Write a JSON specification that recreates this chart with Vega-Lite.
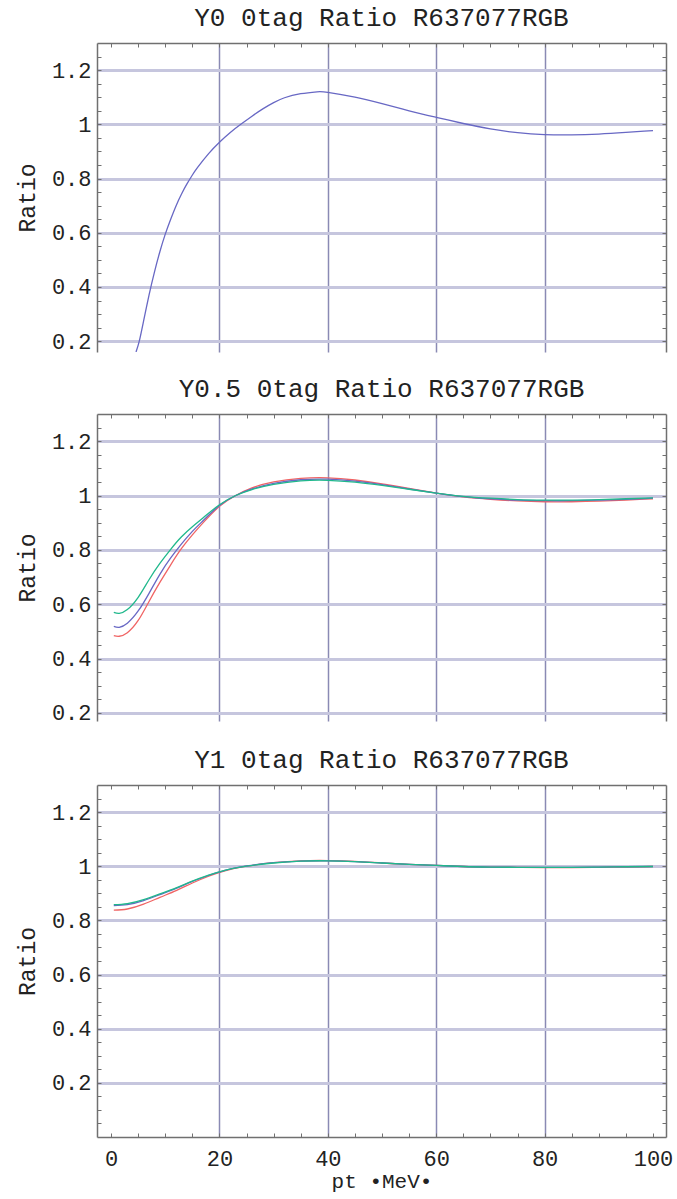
{
  "$schema": "https://vega.github.io/schema/vega-lite/v6.json",
  "background": "white",
  "padding": {"left": 16, "top": 4, "right": 6, "bottom": 5},
  "spacing": 22,
  "config": {
    "view": {"stroke": null},
    "title": {"font": "Liberation Mono", "fontSize": 26, "fontWeight": "normal", "color": "#222", "anchor": "middle", "offset": 12},
    "axis": {"labelFont": "Liberation Mono", "titleFont": "Liberation Mono", "labelColor": "#222", "titleColor": "#222", "labelFontSize": 22, "titleFontSize": 23, "titleFontWeight": "normal", "domainColor": "#707070", "domainWidth": 1.5, "tickColor": "#707070", "tickSize": -4, "labelOverlap": false, "labelBound": false}
  },
  "datasets": {
    "p1": [
      {"x": 4.6, "y": 0.16, "s": "b"}, {"x": 5.2, "y": 0.2, "s": "b"}, {"x": 6, "y": 0.275, "s": "b"}, {"x": 7, "y": 0.37, "s": "b"}, {"x": 8, "y": 0.455, "s": "b"}, {"x": 9, "y": 0.53, "s": "b"}, {"x": 10, "y": 0.595, "s": "b"}, {"x": 11, "y": 0.65, "s": "b"}, {"x": 12, "y": 0.7, "s": "b"}, {"x": 13, "y": 0.743, "s": "b"}, {"x": 14, "y": 0.78, "s": "b"}, {"x": 15, "y": 0.813, "s": "b"}, {"x": 16, "y": 0.842, "s": "b"}, {"x": 18, "y": 0.892, "s": "b"}, {"x": 20, "y": 0.934, "s": "b"}, {"x": 22, "y": 0.97, "s": "b"}, {"x": 24, "y": 1.001, "s": "b"}, {"x": 26, "y": 1.03, "s": "b"}, {"x": 28, "y": 1.057, "s": "b"}, {"x": 30, "y": 1.08, "s": "b"}, {"x": 32, "y": 1.098, "s": "b"}, {"x": 35, "y": 1.113, "s": "b"}, {"x": 38, "y": 1.12, "s": "b"}, {"x": 40, "y": 1.118, "s": "b"}, {"x": 45, "y": 1.1, "s": "b"}, {"x": 50, "y": 1.076, "s": "b"}, {"x": 55, "y": 1.05, "s": "b"}, {"x": 60, "y": 1.026, "s": "b"}, {"x": 65, "y": 1.003, "s": "b"}, {"x": 70, "y": 0.983, "s": "b"}, {"x": 75, "y": 0.969, "s": "b"}, {"x": 80, "y": 0.962, "s": "b"}, {"x": 85, "y": 0.961, "s": "b"}, {"x": 90, "y": 0.964, "s": "b"}, {"x": 95, "y": 0.97, "s": "b"}, {"x": 100, "y": 0.977, "s": "b"}
    ],
    "p2": [
      {"x": 0.5, "y": 0.484, "s": "r"}, {"x": 1.5, "y": 0.482, "s": "r"}, {"x": 3, "y": 0.495, "s": "r"}, {"x": 5, "y": 0.54, "s": "r"}, {"x": 7, "y": 0.61, "s": "r"}, {"x": 9, "y": 0.68, "s": "r"}, {"x": 11, "y": 0.745, "s": "r"}, {"x": 13, "y": 0.805, "s": "r"}, {"x": 15, "y": 0.855, "s": "r"}, {"x": 17, "y": 0.9, "s": "r"}, {"x": 20, "y": 0.96, "s": "r"}, {"x": 23, "y": 1.0, "s": "r"}, {"x": 26, "y": 1.028, "s": "r"}, {"x": 30, "y": 1.05, "s": "r"}, {"x": 35, "y": 1.063, "s": "r"}, {"x": 40, "y": 1.065, "s": "r"}, {"x": 45, "y": 1.057, "s": "r"}, {"x": 50, "y": 1.043, "s": "r"}, {"x": 55, "y": 1.026, "s": "r"}, {"x": 60, "y": 1.009, "s": "r"}, {"x": 65, "y": 0.995, "s": "r"}, {"x": 70, "y": 0.986, "s": "r"}, {"x": 75, "y": 0.98, "s": "r"}, {"x": 80, "y": 0.977, "s": "r"}, {"x": 85, "y": 0.977, "s": "r"}, {"x": 90, "y": 0.979, "s": "r"}, {"x": 95, "y": 0.983, "s": "r"}, {"x": 100, "y": 0.988, "s": "r"},
      {"x": 0.5, "y": 0.518, "s": "b"}, {"x": 1.5, "y": 0.515, "s": "b"}, {"x": 3, "y": 0.53, "s": "b"}, {"x": 5, "y": 0.575, "s": "b"}, {"x": 7, "y": 0.64, "s": "b"}, {"x": 9, "y": 0.71, "s": "b"}, {"x": 11, "y": 0.77, "s": "b"}, {"x": 13, "y": 0.822, "s": "b"}, {"x": 15, "y": 0.868, "s": "b"}, {"x": 17, "y": 0.908, "s": "b"}, {"x": 20, "y": 0.963, "s": "b"}, {"x": 23, "y": 1.0, "s": "b"}, {"x": 26, "y": 1.024, "s": "b"}, {"x": 30, "y": 1.045, "s": "b"}, {"x": 35, "y": 1.058, "s": "b"}, {"x": 40, "y": 1.06, "s": "b"}, {"x": 45, "y": 1.053, "s": "b"}, {"x": 50, "y": 1.04, "s": "b"}, {"x": 55, "y": 1.024, "s": "b"}, {"x": 60, "y": 1.009, "s": "b"}, {"x": 65, "y": 0.996, "s": "b"}, {"x": 70, "y": 0.988, "s": "b"}, {"x": 75, "y": 0.983, "s": "b"}, {"x": 80, "y": 0.981, "s": "b"}, {"x": 85, "y": 0.981, "s": "b"}, {"x": 90, "y": 0.983, "s": "b"}, {"x": 95, "y": 0.986, "s": "b"}, {"x": 100, "y": 0.99, "s": "b"},
      {"x": 0.5, "y": 0.57, "s": "g"}, {"x": 1.5, "y": 0.566, "s": "g"}, {"x": 3, "y": 0.58, "s": "g"}, {"x": 5, "y": 0.625, "s": "g"}, {"x": 7, "y": 0.69, "s": "g"}, {"x": 9, "y": 0.75, "s": "g"}, {"x": 11, "y": 0.802, "s": "g"}, {"x": 13, "y": 0.848, "s": "g"}, {"x": 15, "y": 0.885, "s": "g"}, {"x": 17, "y": 0.918, "s": "g"}, {"x": 20, "y": 0.966, "s": "g"}, {"x": 23, "y": 1.0, "s": "g"}, {"x": 26, "y": 1.022, "s": "g"}, {"x": 30, "y": 1.041, "s": "g"}, {"x": 35, "y": 1.054, "s": "g"}, {"x": 40, "y": 1.056, "s": "g"}, {"x": 45, "y": 1.049, "s": "g"}, {"x": 50, "y": 1.037, "s": "g"}, {"x": 55, "y": 1.023, "s": "g"}, {"x": 60, "y": 1.009, "s": "g"}, {"x": 65, "y": 0.997, "s": "g"}, {"x": 70, "y": 0.99, "s": "g"}, {"x": 75, "y": 0.985, "s": "g"}, {"x": 80, "y": 0.983, "s": "g"}, {"x": 85, "y": 0.983, "s": "g"}, {"x": 90, "y": 0.985, "s": "g"}, {"x": 95, "y": 0.988, "s": "g"}, {"x": 100, "y": 0.991, "s": "g"}
    ],
    "p3": [
      {"x": 0.5, "y": 0.838, "s": "r"}, {"x": 3, "y": 0.842, "s": "r"}, {"x": 6, "y": 0.86, "s": "r"}, {"x": 9, "y": 0.885, "s": "r"}, {"x": 12, "y": 0.91, "s": "r"}, {"x": 15, "y": 0.938, "s": "r"}, {"x": 18, "y": 0.963, "s": "r"}, {"x": 21, "y": 0.983, "s": "r"}, {"x": 25, "y": 1.0, "s": "r"}, {"x": 30, "y": 1.013, "s": "r"}, {"x": 35, "y": 1.02, "s": "r"}, {"x": 40, "y": 1.021, "s": "r"}, {"x": 45, "y": 1.018, "s": "r"}, {"x": 50, "y": 1.012, "s": "r"}, {"x": 55, "y": 1.007, "s": "r"}, {"x": 60, "y": 1.003, "s": "r"}, {"x": 65, "y": 0.999, "s": "r"}, {"x": 70, "y": 0.997, "s": "r"}, {"x": 75, "y": 0.996, "s": "r"}, {"x": 80, "y": 0.995, "s": "r"}, {"x": 85, "y": 0.995, "s": "r"}, {"x": 90, "y": 0.996, "s": "r"}, {"x": 95, "y": 0.997, "s": "r"}, {"x": 100, "y": 0.999, "s": "r"},
      {"x": 0.5, "y": 0.855, "s": "b"}, {"x": 3, "y": 0.858, "s": "b"}, {"x": 6, "y": 0.873, "s": "b"}, {"x": 9, "y": 0.895, "s": "b"}, {"x": 12, "y": 0.918, "s": "b"}, {"x": 15, "y": 0.944, "s": "b"}, {"x": 18, "y": 0.966, "s": "b"}, {"x": 21, "y": 0.985, "s": "b"}, {"x": 25, "y": 1.001, "s": "b"}, {"x": 30, "y": 1.013, "s": "b"}, {"x": 35, "y": 1.019, "s": "b"}, {"x": 40, "y": 1.02, "s": "b"}, {"x": 45, "y": 1.017, "s": "b"}, {"x": 50, "y": 1.012, "s": "b"}, {"x": 55, "y": 1.007, "s": "b"}, {"x": 60, "y": 1.003, "s": "b"}, {"x": 65, "y": 0.999, "s": "b"}, {"x": 70, "y": 0.997, "s": "b"}, {"x": 75, "y": 0.996, "s": "b"}, {"x": 80, "y": 0.996, "s": "b"}, {"x": 85, "y": 0.996, "s": "b"}, {"x": 90, "y": 0.997, "s": "b"}, {"x": 95, "y": 0.998, "s": "b"}, {"x": 100, "y": 0.999, "s": "b"},
      {"x": 0.5, "y": 0.858, "s": "g"}, {"x": 3, "y": 0.862, "s": "g"}, {"x": 6, "y": 0.877, "s": "g"}, {"x": 9, "y": 0.898, "s": "g"}, {"x": 12, "y": 0.92, "s": "g"}, {"x": 15, "y": 0.945, "s": "g"}, {"x": 18, "y": 0.967, "s": "g"}, {"x": 21, "y": 0.985, "s": "g"}, {"x": 25, "y": 1.0, "s": "g"}, {"x": 30, "y": 1.012, "s": "g"}, {"x": 35, "y": 1.019, "s": "g"}, {"x": 40, "y": 1.02, "s": "g"}, {"x": 45, "y": 1.017, "s": "g"}, {"x": 50, "y": 1.012, "s": "g"}, {"x": 55, "y": 1.007, "s": "g"}, {"x": 60, "y": 1.003, "s": "g"}, {"x": 65, "y": 0.999, "s": "g"}, {"x": 70, "y": 0.997, "s": "g"}, {"x": 75, "y": 0.996, "s": "g"}, {"x": 80, "y": 0.996, "s": "g"}, {"x": 85, "y": 0.996, "s": "g"}, {"x": 90, "y": 0.997, "s": "g"}, {"x": 95, "y": 0.998, "s": "g"}, {"x": 100, "y": 0.999, "s": "g"}
    ]
  },
  "vconcat": [
    {
      "width": 569, "height": 309,
      "title": "Y0 0tag Ratio R637077RGB",
      "data": {"name": "p1"},
      "layer": [
        {
          "mark": {"type": "line", "clip": true, "interpolate": "natural", "strokeWidth": 1.3},
          "encoding": {
            "x": {"field": "x", "type": "quantitative", "scale": {"domain": [-2.6, 102.4], "nice": false, "zero": false},
              "axis": {"orient": "top", "values": [0,5,10,15,20,25,30,35,40,45,50,55,60,65,70,75,80,85,90,95,100], "labels": false, "title": null, "grid": true, "gridColor": "#8a8ab4", "gridWidth": 1.5, "gridOpacity": {"condition": {"test": "datum.value % 20 == 0 && datum.value > 0 && datum.value < 100", "value": 1}, "value": 0}}},
            "y": {"field": "y", "type": "quantitative", "scale": {"domain": [0.16, 1.3], "nice": false, "zero": false},
              "axis": {"orient": "left", "values": [0.2,0.25,0.3,0.35,0.4,0.45,0.5,0.55,0.6,0.65,0.7,0.75,0.8,0.85,0.9,0.95,1,1.05,1.1,1.15,1.2,1.25], "title": "Ratio", "titlePadding": 12, "labelPadding": 10, "labelExpr": "abs(datum.value*5 - round(datum.value*5)) < 0.001 ? format(datum.value, '~g') : ''", "grid": true, "gridColor": "#c6c6de", "gridWidth": 3, "gridOpacity": {"condition": {"test": "abs(datum.value*5 - round(datum.value*5)) < 0.001", "value": 1}, "value": 0}}},
            "color": {"field": "s", "type": "nominal", "scale": {"domain": ["r", "b", "g"], "range": ["#f06464", "#6868c4", "#20b88c"]}, "legend": null}
          }
        },
        {
          "mark": {"type": "line", "opacity": 0},
          "encoding": {
            "x": {"field": "x", "type": "quantitative", "axis": {"orient": "bottom", "labels": false, "ticks": false, "domain": false, "grid": false, "title": null}},
            "y": {"field": "y", "type": "quantitative", "axis": {"orient": "right", "values": [0.2,0.25,0.3,0.35,0.4,0.45,0.5,0.55,0.6,0.65,0.7,0.75,0.8,0.85,0.9,0.95,1,1.05,1.1,1.15,1.2,1.25], "labels": false, "title": null, "grid": false}}
          }
        }
      ]
    },
    {
      "width": 569, "height": 307,
      "title": "Y0.5 0tag Ratio R637077RGB",
      "data": {"name": "p2"},
      "layer": [
        {
          "mark": {"type": "line", "clip": true, "interpolate": "natural", "strokeWidth": 1.3},
          "encoding": {
            "x": {"field": "x", "type": "quantitative", "scale": {"domain": [-2.6, 102.4], "nice": false, "zero": false},
              "axis": {"orient": "top", "values": [0,5,10,15,20,25,30,35,40,45,50,55,60,65,70,75,80,85,90,95,100], "labels": false, "title": null, "grid": true, "gridColor": "#8a8ab4", "gridWidth": 1.5, "gridOpacity": {"condition": {"test": "datum.value % 20 == 0 && datum.value > 0 && datum.value < 100", "value": 1}, "value": 0}}},
            "y": {"field": "y", "type": "quantitative", "scale": {"domain": [0.17, 1.3], "nice": false, "zero": false},
              "axis": {"orient": "left", "values": [0.2,0.25,0.3,0.35,0.4,0.45,0.5,0.55,0.6,0.65,0.7,0.75,0.8,0.85,0.9,0.95,1,1.05,1.1,1.15,1.2,1.25], "title": "Ratio", "titlePadding": 12, "labelPadding": 10, "labelExpr": "abs(datum.value*5 - round(datum.value*5)) < 0.001 ? format(datum.value, '~g') : ''", "grid": true, "gridColor": "#c6c6de", "gridWidth": 3, "gridOpacity": {"condition": {"test": "abs(datum.value*5 - round(datum.value*5)) < 0.001", "value": 1}, "value": 0}}},
            "color": {"field": "s", "type": "nominal", "scale": {"domain": ["r", "b", "g"], "range": ["#f06464", "#6868c4", "#20b88c"]}, "legend": null}
          }
        },
        {
          "mark": {"type": "line", "opacity": 0},
          "encoding": {
            "x": {"field": "x", "type": "quantitative", "axis": {"orient": "bottom", "labels": false, "ticks": false, "domain": false, "grid": false, "title": null}},
            "y": {"field": "y", "type": "quantitative", "axis": {"orient": "right", "values": [0.2,0.25,0.3,0.35,0.4,0.45,0.5,0.55,0.6,0.65,0.7,0.75,0.8,0.85,0.9,0.95,1,1.05,1.1,1.15,1.2,1.25], "labels": false, "title": null, "grid": false}}
          }
        }
      ]
    },
    {
      "width": 569, "height": 352,
      "title": "Y1 0tag Ratio R637077RGB",
      "data": {"name": "p3"},
      "layer": [
        {
          "mark": {"type": "line", "clip": true, "interpolate": "natural", "strokeWidth": 1.3},
          "encoding": {
            "x": {"field": "x", "type": "quantitative", "scale": {"domain": [-2.6, 102.4], "nice": false, "zero": false},
              "axis": {"orient": "top", "values": [0,5,10,15,20,25,30,35,40,45,50,55,60,65,70,75,80,85,90,95,100], "labels": false, "title": null, "grid": true, "gridColor": "#8a8ab4", "gridWidth": 1.5, "gridOpacity": {"condition": {"test": "datum.value % 20 == 0 && datum.value > 0 && datum.value < 100", "value": 1}, "value": 0}}},
            "y": {"field": "y", "type": "quantitative", "scale": {"domain": [0, 1.3], "nice": false, "zero": false},
              "axis": {"orient": "left", "values": [0.05,0.1,0.15,0.2,0.25,0.3,0.35,0.4,0.45,0.5,0.55,0.6,0.65,0.7,0.75,0.8,0.85,0.9,0.95,1,1.05,1.1,1.15,1.2,1.25], "title": "Ratio", "titlePadding": 12, "labelPadding": 10, "labelExpr": "abs(datum.value*5 - round(datum.value*5)) < 0.001 ? format(datum.value, '~g') : ''", "grid": true, "gridColor": "#c6c6de", "gridWidth": 3, "gridOpacity": {"condition": {"test": "abs(datum.value*5 - round(datum.value*5)) < 0.001", "value": 1}, "value": 0}}},
            "color": {"field": "s", "type": "nominal", "scale": {"domain": ["r", "b", "g"], "range": ["#f06464", "#6868c4", "#20b88c"]}, "legend": null}
          }
        },
        {
          "mark": {"type": "line", "opacity": 0},
          "encoding": {
            "x": {"field": "x", "type": "quantitative", "axis": {"orient": "bottom", "values": [0,5,10,15,20,25,30,35,40,45,50,55,60,65,70,75,80,85,90,95,100], "title": "pt •MeV•", "titleFontSize": 21, "titlePadding": 1, "labelPadding": 15, "labelExpr": "datum.value % 20 == 0 ? format(datum.value, 'd') : ''", "grid": false}},
            "y": {"field": "y", "type": "quantitative", "axis": {"orient": "right", "values": [0.05,0.1,0.15,0.2,0.25,0.3,0.35,0.4,0.45,0.5,0.55,0.6,0.65,0.7,0.75,0.8,0.85,0.9,0.95,1,1.05,1.1,1.15,1.2,1.25], "labels": false, "title": null, "grid": false}}
          }
        }
      ]
    }
  ]
}
